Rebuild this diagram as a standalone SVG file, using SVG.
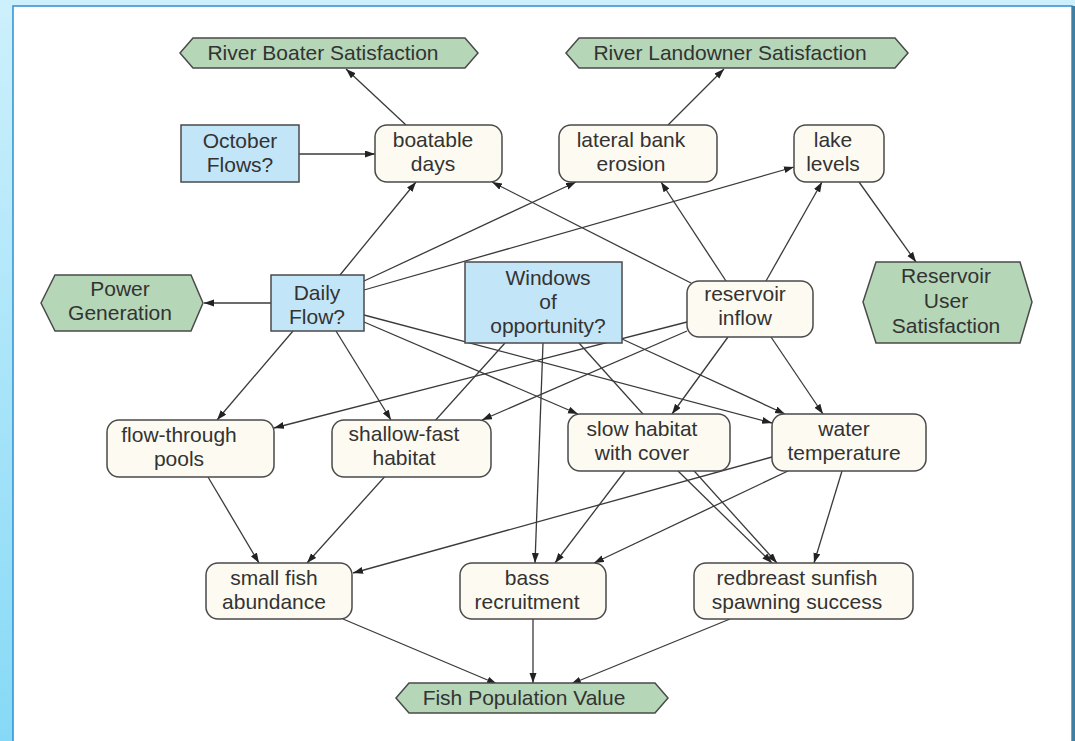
<svg xmlns="http://www.w3.org/2000/svg" width="1075" height="741" viewBox="0 0 1075 741">
  <defs>
    <linearGradient id="frameFill" x1="0" y1="0" x2="0" y2="1">
      <stop offset="0" stop-color="#cdf0fc"/>
      <stop offset="1" stop-color="#86d9f6"/>
    </linearGradient>
    <marker id="arrow" markerUnits="userSpaceOnUse" markerWidth="10" markerHeight="8" refX="10" refY="3.5" orient="auto">
      <path d="M0,0 L10,3.5 L0,7 z" fill="#222"/>
    </marker>
    <style>
      .objective { fill: #b5d6b7; stroke: #4a4a4a; stroke-width: 1.5; }
      .decision { fill: #c3e5f8; stroke: #4a4a4a; stroke-width: 1.5; }
      .chance { fill: #fdfbf1; stroke: #4a4a4a; stroke-width: 1.5; }
      text { font-family: "Liberation Sans", Arial, sans-serif; font-size: 21px; fill: #333; text-anchor: middle; }
      #connectors line { stroke: #3a3a3a; stroke-width: 1.3; fill: none; }
      #connectors .arc { marker-end: url(#arrow); }
    </style>
  </defs>

  <!-- frame -->
  <rect x="0" y="0" width="1075" height="741" fill="url(#frameFill)"/>
  <rect x="13" y="6" width="1059" height="745" fill="#ffffff" stroke="#2f8fd0" stroke-width="1.5"/>
  <rect x="1072" y="6" width="3" height="735" fill="#3f7fa4"/>

  <!-- connectors (drawn beneath the nodes) -->
  <g id="connectors">
    <line class="arc" x1="406" y1="125" x2="346" y2="69"/>
    <line class="arc" x1="299" y1="154" x2="375" y2="154"/>
    <line class="arc" x1="668" y1="125" x2="724" y2="69"/>
    <line class="arc" x1="340" y1="275" x2="416" y2="182"/>
    <line class="arc" x1="364" y1="281" x2="576" y2="182"/>
    <line class="arc" x1="364" y1="290" x2="794" y2="167"/>
    <line class="arc" x1="271" y1="303" x2="204" y2="303"/>
    <line class="arc" x1="691" y1="283" x2="492" y2="182"/>
    <line class="arc" x1="726" y1="281" x2="661" y2="182"/>
    <line class="arc" x1="766" y1="281" x2="822" y2="182"/>
    <line class="arc" x1="859" y1="182" x2="916" y2="262"/>
    <line class="arc" x1="293" y1="331" x2="217" y2="420"/>
    <line class="arc" x1="336" y1="331" x2="391" y2="420"/>
    <line class="arc" x1="364" y1="322" x2="578" y2="414"/>
    <line class="arc" x1="364" y1="315" x2="772" y2="423"/>
    <line class="arc" x1="687" y1="322" x2="274" y2="428"/>
    <line class="arc" x1="687" y1="331" x2="482" y2="420"/>
    <line class="arc" x1="728" y1="337" x2="672" y2="414"/>
    <line class="arc" x1="771" y1="337" x2="823" y2="414"/>
    <line class="arc" x1="622" y1="339" x2="785" y2="414"/>
    <line class="arc" x1="543" y1="343" x2="535" y2="563"/>
    <line class="arc" x1="505" y1="343" x2="307" y2="563"/>
    <line class="arc" x1="579" y1="343" x2="777" y2="563"/>
    <line class="arc" x1="625" y1="471" x2="555" y2="563"/>
    <line class="arc" x1="678" y1="471" x2="772" y2="563"/>
    <line class="arc" x1="772" y1="457" x2="353" y2="573"/>
    <line class="arc" x1="788" y1="471" x2="594" y2="563"/>
    <line class="arc" x1="842" y1="471" x2="814" y2="563"/>
    <line class="arc" x1="208" y1="477" x2="259" y2="563"/>
    <line class="arc" x1="343" y1="619" x2="497" y2="684"/>
    <line class="arc" x1="533" y1="619" x2="533" y2="683"/>
    <line class="arc" x1="730" y1="619" x2="571" y2="684"/>
  </g>

  <!-- objectives -->
  <g id="river-boater-satisfaction">
    <polygon class="objective" points="180,53 193,38 465,38 478,53 465,68 193,68"/>
    <text x="323" y="60">River Boater Satisfaction</text>
  </g>
  <g id="river-landowner-satisfaction">
    <polygon class="objective" points="566,53 579,38 895,38 908,53 895,68 579,68"/>
    <text x="730" y="60">River Landowner Satisfaction</text>
  </g>
  <g id="power-generation">
    <polygon class="objective" points="41,303 55,275 191,275 203,303 191,331 55,331"/>
    <text x="120" y="296">Power</text>
    <text x="120" y="320">Generation</text>
  </g>
  <g id="reservoir-user-satisfaction">
    <polygon class="objective" points="863,302 876,262 1020,262 1032,302 1020,343 876,343"/>
    <text x="946" y="283">Reservoir</text>
    <text x="946" y="308">User</text>
    <text x="946" y="333">Satisfaction</text>
  </g>
  <g id="fish-population-value">
    <polygon class="objective" points="396,698 409,683 655,683 668,698 655,713 409,713"/>
    <text x="524" y="705">Fish Population Value</text>
  </g>

  <!-- decisions -->
  <g id="october-flows">
    <rect class="decision" x="181" y="125" width="118" height="57"/>
    <text x="240" y="148">October</text>
    <text x="240" y="172">Flows?</text>
  </g>
  <g id="daily-flow">
    <rect class="decision" x="271" y="275" width="93" height="56"/>
    <text x="317" y="300">Daily</text>
    <text x="317" y="324">Flow?</text>
  </g>
  <g id="windows-of-opportunity">
    <rect class="decision" x="465" y="262" width="157" height="81"/>
    <text x="548" y="285">Windows</text>
    <text x="548" y="309">of</text>
    <text x="548" y="333">opportunity?</text>
  </g>

  <!-- intermediate variables -->
  <g id="boatable-days">
    <rect class="chance" x="375" y="125" width="127" height="57" rx="12"/>
    <text x="433" y="147">boatable</text>
    <text x="433" y="171">days</text>
  </g>
  <g id="lateral-bank-erosion">
    <rect class="chance" x="559" y="125" width="158" height="57" rx="12"/>
    <text x="631" y="147">lateral bank</text>
    <text x="631" y="171">erosion</text>
  </g>
  <g id="lake-levels">
    <rect class="chance" x="794" y="125" width="90" height="57" rx="12"/>
    <text x="833" y="147">lake</text>
    <text x="833" y="171">levels</text>
  </g>
  <g id="reservoir-inflow">
    <rect class="chance" x="687" y="281" width="126" height="56" rx="12"/>
    <text x="745" y="301">reservoir</text>
    <text x="745" y="325">inflow</text>
  </g>
  <g id="flow-through-pools">
    <rect class="chance" x="107" y="420" width="167" height="57" rx="12"/>
    <text x="179" y="442">flow-through</text>
    <text x="179" y="466">pools</text>
  </g>
  <g id="shallow-fast-habitat">
    <rect class="chance" x="332" y="420" width="159" height="57" rx="12"/>
    <text x="404" y="441">shallow-fast</text>
    <text x="404" y="465">habitat</text>
  </g>
  <g id="slow-habitat-with-cover">
    <rect class="chance" x="568" y="414" width="162" height="57" rx="12"/>
    <text x="642" y="436">slow habitat</text>
    <text x="642" y="460">with cover</text>
  </g>
  <g id="water-temperature">
    <rect class="chance" x="772" y="414" width="154" height="57" rx="12"/>
    <text x="844" y="436">water</text>
    <text x="844" y="460">temperature</text>
  </g>
  <g id="small-fish-abundance">
    <rect class="chance" x="206" y="563" width="146" height="56" rx="12"/>
    <text x="274" y="585">small fish</text>
    <text x="274" y="609">abundance</text>
  </g>
  <g id="bass-recruitment">
    <rect class="chance" x="460" y="563" width="146" height="56" rx="12"/>
    <text x="527" y="585">bass</text>
    <text x="527" y="609">recruitment</text>
  </g>
  <g id="redbreast-sunfish-spawning-success">
    <rect class="chance" x="694" y="563" width="219" height="56" rx="12"/>
    <text x="797" y="585">redbreast sunfish</text>
    <text x="797" y="609">spawning success</text>
  </g>
</svg>
